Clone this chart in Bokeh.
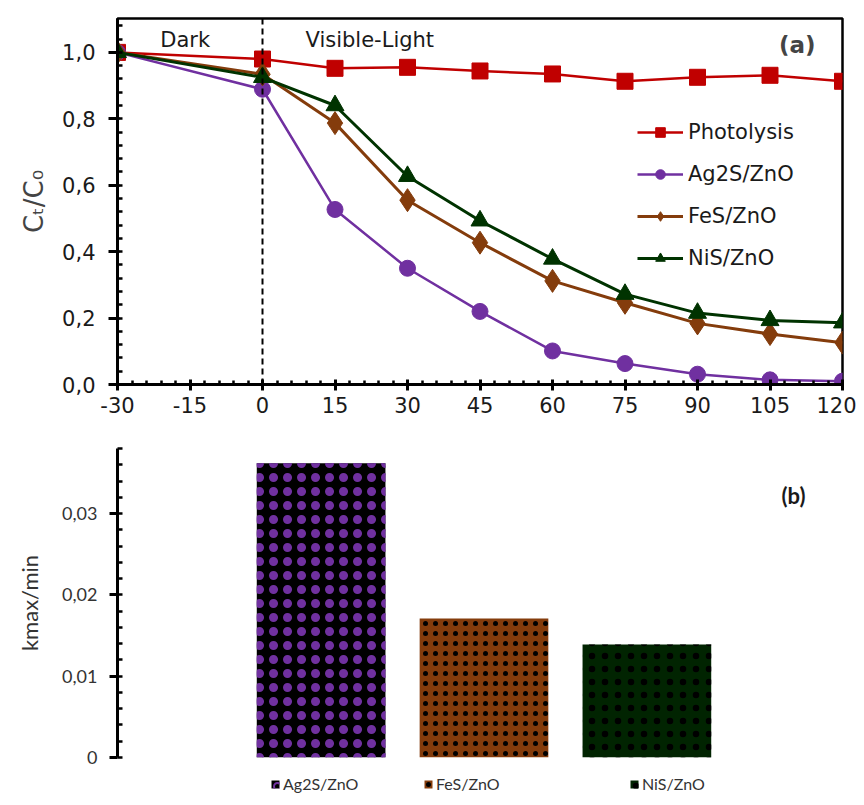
from bokeh.plotting import figure
from bokeh.layouts import column
from bokeh.models import (Range1d, FactorRange, FixedTicker, CustomJSTickFormatter,
                          Legend, LegendItem, Span, Label, ColumnDataSource)
from bokeh.embed import file_html
from bokeh.resources import INLINE

# ---------------- data ----------------
time_min = [-30, 0, 15, 30, 45, 60, 75, 90, 105, 120]
photolysis = [1.0, 0.980, 0.952, 0.955, 0.944, 0.935, 0.913, 0.925, 0.931, 0.913]
ag2s_zno = [1.0, 0.889, 0.527, 0.350, 0.220, 0.101, 0.063, 0.031, 0.014, 0.010]
fes_zno = [1.0, 0.934, 0.787, 0.555, 0.427, 0.312, 0.246, 0.184, 0.152, 0.126]
nis_zno = [1.0, 0.925, 0.840, 0.627, 0.493, 0.378, 0.272, 0.215, 0.193, 0.186]
x_ticks = [-30, -15, 0, 15, 30, 45, 60, 75, 90, 105, 120]
y_ticks = [0.0, 0.2, 0.4, 0.6, 0.8, 1.0]

catalysts = ["Ag2S/ZnO", "FeS/ZnO", "NiS/ZnO"]
kmax = [0.0362, 0.0171, 0.0139]
k_ticks = [0, 0.01, 0.02, 0.03]

AX = "DejaVu Sans"
CAL = "Lato"

# ---------------- (a) ----------------
p1 = figure(width=856, height=428, output_backend="svg", toolbar_location=None,
            x_range=Range1d(-30, 120), y_range=Range1d(0, 1.102),
            min_border_left=117, min_border_right=14, min_border_top=18, min_border_bottom=44)
p1.grid.visible = False
p1.outline_line_color = "black"
p1.outline_line_width = 2.5

for ax in (p1.xaxis[0], p1.yaxis[0]):
    ax.axis_line_width = 3
    ax.major_tick_line_width = 3
    ax.minor_tick_line_width = 2.5
    ax.major_label_text_font = AX
    ax.major_label_text_font_size = "21px"
    ax.major_label_text_color = "#1a1a1a"

p1.xaxis.ticker = FixedTicker(ticks=x_ticks, minor_ticks=list(range(-30, 121, 3)))
p1.xaxis.formatter = CustomJSTickFormatter(code="return tick.toString();")
p1.xaxis.major_tick_out = 6
p1.xaxis.major_tick_in = 5
p1.xaxis.minor_tick_out = 0
p1.xaxis.minor_tick_in = 4
p1.xaxis.major_label_standoff = 6

p1.yaxis.ticker = FixedTicker(ticks=y_ticks, minor_ticks=[round(i * 0.04, 2) for i in range(0, 28)])
p1.yaxis.formatter = CustomJSTickFormatter(code="return tick.toFixed(1).replace('.', ',');")
p1.yaxis.major_tick_out = 9
p1.yaxis.major_tick_in = 2
p1.yaxis.minor_tick_out = 0
p1.yaxis.minor_tick_in = 5
p1.yaxis.major_label_standoff = 13
p1.yaxis.axis_label = "Cₜ/C₀"
p1.yaxis.axis_label_text_font = AX
p1.yaxis.axis_label_text_font_style = "normal"
p1.yaxis.axis_label_text_font_size = "26px"
p1.yaxis.axis_label_standoff = 10

p1.add_layout(Span(location=0, dimension="height", line_color="black",
                   line_width=2, line_dash="6 4"))

series = [
    ("Photolysis", photolysis, "#C00000", "square", 16, 2.5),
    ("Ag2S/ZnO", ag2s_zno, "#7030A0", "circle", 16, 2.5),
    ("FeS/ZnO", fes_zno, "#843C0C", "diamond", 23, 3),
    ("NiS/ZnO", nis_zno, "#003300", "triangle", 18, 3),
]
items = []
for name, ys, col, mk, sz, lw in series:
    src = ColumnDataSource(dict(x=time_min, y=ys))
    r1 = p1.line("x", "y", source=src, line_color=col, line_width=lw)
    r2 = p1.scatter("x", "y", source=src, marker=mk, size=sz, fill_color=col, line_color=col)
    items.append(LegendItem(label=name, renderers=[r1, r2]))

leg1 = Legend(items=items, location=(520, 114), glyph_width=46, glyph_height=24,
              label_height=24, spacing=18, padding=0, margin=0, label_standoff=5,
              label_text_font=AX, label_text_font_size="21px", label_text_color="#1a1a1a",
              border_line_color=None, background_fill_alpha=0)
p1.add_layout(leg1, "center")

p1.add_layout(Label(x=-16, y=1.036, text="Dark", text_align="center", text_baseline="middle",
                    text_font=AX, text_font_size="21px", text_color="#1a1a1a"))
p1.add_layout(Label(x=8.9, y=1.036, text="Visible-Light", text_align="left", text_baseline="middle",
                    text_font=AX, text_font_size="21px", text_color="#1a1a1a"))
p1.add_layout(Label(x=114.4, y=1.021, text="(a)", text_align="right", text_baseline="middle",
                    text_font=AX, text_font_size="23px", text_font_style="bold"))

# ---------------- (b) ----------------
xr = FactorRange(factors=catalysts, range_padding=0.75, range_padding_units="absolute")
p2 = figure(width=864, height=345, output_backend="svg", toolbar_location=None,
            x_range=xr, y_range=Range1d(0, 0.038),
            min_border_left=117, min_border_right=9, min_border_top=20, min_border_bottom=16)
p2.grid.visible = False
p2.outline_line_color = None
p2.xaxis.visible = False

ya = p2.yaxis[0]
ya.ticker = FixedTicker(ticks=k_ticks, minor_ticks=[round(i * 0.002, 3) for i in range(0, 20)])
ya.formatter = CustomJSTickFormatter(code="return tick == 0 ? '0' : tick.toFixed(2).replace('.', ',');")
ya.axis_line_width = 3
ya.major_tick_line_width = 3
ya.minor_tick_line_width = 2.5
ya.major_tick_out = 8
ya.major_tick_in = 0
ya.minor_tick_out = 0
ya.minor_tick_in = 5
ya.major_label_text_font = CAL
ya.major_label_text_font_size = "18px"
ya.major_label_text_color = "#333333"
ya.major_label_standoff = 12
ya.axis_label = "kmax/min"
ya.axis_label_text_font = CAL
ya.axis_label_text_font_style = "normal"
ya.axis_label_text_font_size = "22px"
ya.axis_label_text_color = "#333333"
ya.axis_label_standoff = 16

bar_styles = [
    dict(fill_color="black", hatch_pattern="ring", hatch_color="#7030A0", hatch_scale=14, hatch_weight=2),
    dict(fill_color="#843C0C", hatch_pattern="dot", hatch_color="black", hatch_scale=10, hatch_weight=4),
    dict(fill_color="#012401", hatch_pattern="dot", hatch_color="black", hatch_scale=13, hatch_weight=9),
]
overlays = [
    dict(hatch_pattern="dot", hatch_color="#7030A0", hatch_scale=14),
    None,
    None,
]

# legend strip below the bars
p3 = figure(width=864, height=32, output_backend="svg", toolbar_location=None,
            x_range=xr, y_range=Range1d(1, 2),
            min_border_left=117, min_border_right=9, min_border_top=0, min_border_bottom=0)
p3.grid.visible = False
p3.axis.visible = False
p3.outline_line_color = None

leg_x = [153, 306, 512]
for cat, k, st, ov, lx in zip(catalysts, kmax, bar_styles, overlays, leg_x):
    src = ColumnDataSource(dict(x=[cat], top=[k]))
    p2.vbar(x="x", top="top", source=src, width=0.79, line_color=None, **st)
    if ov:
        p2.vbar(x="x", top="top", source=src, width=0.79, line_color=None, fill_alpha=0, **ov)
    r = p3.vbar(x="x", top="top", source=src, width=0.79, line_color=None, **st)
    lg = Legend(items=[LegendItem(label=cat, renderers=[r])], location=(lx, 12),
                glyph_width=10, glyph_height=10, label_height=16, padding=0, margin=0,
                label_standoff=3, label_text_font=CAL, label_text_font_size="16px",
                label_text_color="#333333", border_line_color=None, background_fill_alpha=0)
    p3.add_layout(lg, "center")

p2.add_layout(Label(x=3.4, y=0.0322, text="(b)", text_align="center", text_baseline="middle",
                    text_font=CAL, text_font_size="22px", text_font_style="bold", text_color="#1a1a1a"))

layout = column(p1, p2, p3, spacing=0)
open("out.html", "w").write(file_html(layout, INLINE))
